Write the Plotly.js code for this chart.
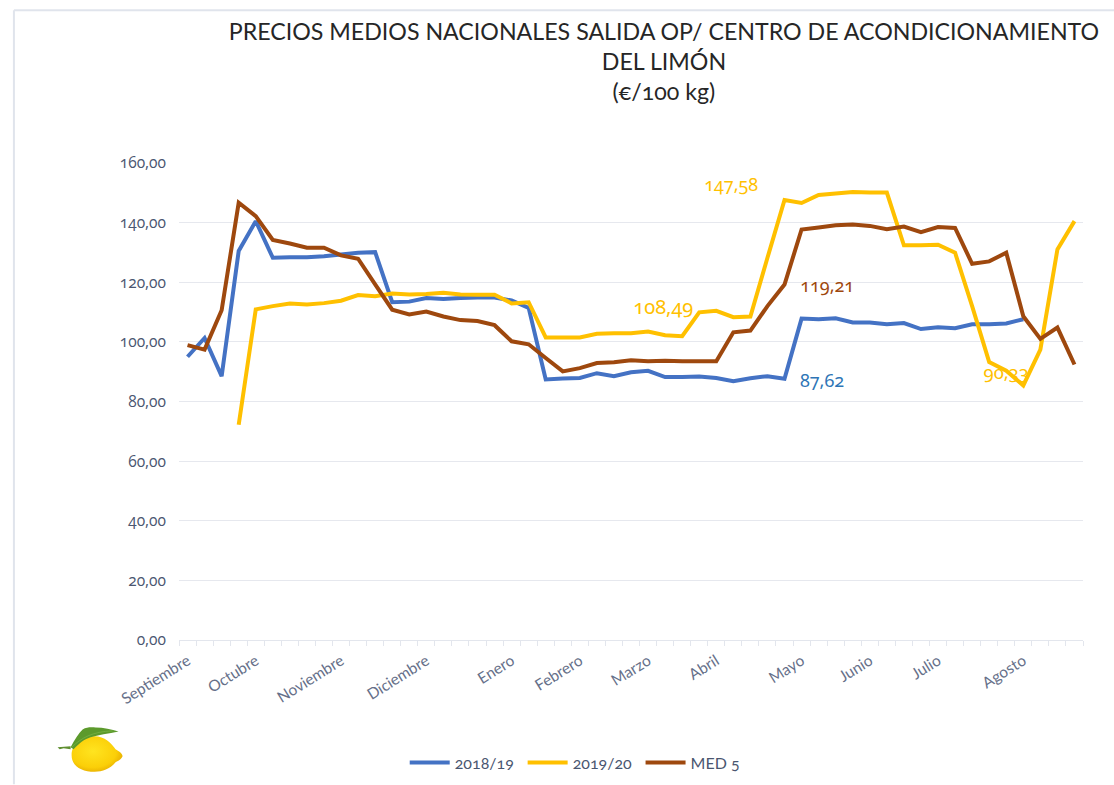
<!DOCTYPE html>
<html><head><meta charset="utf-8">
<script src="https://cdn.plot.ly/plotly-3.0.1.min.js"></script>
<style>
html,body{margin:0;padding:0;background:#fff}
#chart{width:1114px;height:785px}
#chart text{font-variant-numeric:oldstyle-nums !important;font-feature-settings:"onum" 1 !important}
</style></head><body><div id="chart"></div>
<script>
var weekIndex = [];
for (var w = 0; w < 53; w++) weekIndex.push(w);

var monthPositions = [0,4,9,14,19,23,27,31,36,40,44,49];
var monthLabels = ["Septiembre","Octubre","Noviembre","Diciembre","Enero","Febrero","Marzo","Abril","Mayo","Junio","Julio","Agosto"];

var yTicks = [0,20,40,60,80,100,120,140,160];
var yLabels = ["0,00","20,00","40,00","60,00","80,00","100,00","120,00","140,00","160,00"];

var s1819 = [95,101.3,88.5,130.5,140.5,128.2,128.4,128.4,128.7,129.3,129.9,130.1,113.3,113.5,114.7,114.4,114.7,114.9,114.9,113.9,111.4,87.4,87.7,87.9,89.5,88.5,89.8,90.3,88.2,88.2,88.4,87.9,86.8,87.8,88.5,87.62,107.8,107.6,107.9,106.5,106.5,105.9,106.3,104.3,104.9,104.6,105.9,105.9,106.2,107.6,null,null,null];
var s1920 = [null,null,null,72.2,110.9,112,112.9,112.5,113,113.8,115.7,115.3,116.2,115.9,116.1,116.5,115.9,115.8,115.8,112.9,113.3,101.5,101.5,101.5,102.7,102.9,102.9,103.5,102.2,101.9,109.9,110.4,108.3,108.49,128.2,147.58,146.6,149.3,149.8,150.3,150.1,150.1,132.4,132.4,132.6,129.9,112,93.2,90.33,85.4,97.4,131,140.5];
var med5 = [98.9,97.4,110.6,146.7,142.2,134.2,133,131.6,131.6,129,127.9,119.3,110.8,109.2,110.2,108.5,107.3,107,105.6,100.2,99.2,94.6,90.1,91.2,92.9,93.2,93.8,93.5,93.7,93.5,93.5,93.5,103.2,103.8,112,119.21,137.7,138.4,139.1,139.4,138.9,137.8,138.7,136.8,138.5,138.2,126.2,127,129.9,108.6,101,104.8,92.4];

var FONT = "Lato, 'Open Sans', sans-serif";
var NUMFONT = "'Open Sans', Lato, sans-serif";
var NOTEFONT = "'Noto Sans', Lato, sans-serif";
var BLUE = "#4472c4", GOLD = "#ffc000", BROWN = "#9e480e";

function line(name, y, color){
  return {type:"scatter",mode:"lines",name:name,x:weekIndex,y:y,
    line:{color:color,width:4,simplify:false},connectgaps:false};
}

var lemon = "data:image/svg+xml;utf8," + encodeURIComponent(
 '<svg xmlns="http://www.w3.org/2000/svg" viewBox="0 0 70 50">'+
 '<defs><radialGradient id="g" cx="42%" cy="42%" r="65%"><stop offset="0" stop-color="#ffe420"/><stop offset="0.7" stop-color="#fbcf08"/><stop offset="1" stop-color="#e3a800"/></radialGradient></defs>'+
 '<path d="M17 30C17 18 28 11 40 11C50 11 57 18 61 24C64 26 68 28 68 31C67 34 63 36 61 37C55 44 48 46.5 40 46.5C27 46.5 17 41 17 30Z" fill="url(#g)"/>'+
 '<path d="M3 22L16 21L16 24L9 23L5 24Z" fill="#5f8f30"/>'+
 '<path d="M16 22C20 14 24 8 28 4C33 1 38 2 41 2C49 2 57 4 64 6C59 7 54 8 49 9C44 10 40 11 36 12C29 14 24 19 19 24Z" fill="#5c9a2c"/>'+
 '<path d="M17 22C26 13 38 6 58 5.5" stroke="#7cb648" stroke-width="0.7" fill="none"/>'+
 '</svg>');

var labelTrace = {type:"scatter",mode:"text",x:[48],y:[89],text:["90,33"],
  textposition:"middle center",textfont:{family:NOTEFONT,size:18.5,color:GOLD},
  showlegend:false,hoverinfo:"skip"};

var data = [labelTrace, line("2018/19",s1819,BLUE), line("2019/20",s1920,GOLD), line("MED 5",med5,BROWN)];

function note(text,x,y,color,dx,dy,size){
  return {text:text,x:x,y:y,xref:"x",yref:"y",showarrow:false,xshift:dx,yshift:dy,
    font:{family:NOTEFONT,size:size,color:color}};
}

var layout = {
  width:1114,height:785,autosize:false,showlegend:true,
  paper_bgcolor:"#fff",plot_bgcolor:"#fff",
  margin:{l:178.5,r:30.5,t:163,b:144.5},
  font:{family:FONT},
  title:{text:"PRECIOS MEDIOS NACIONALES SALIDA OP/ CENTRO DE ACONDICIONAMIENTO<br>DEL LIMÓN<br>(€/100 kg)",
    font:{family:FONT,size:23.2,color:"#262626"},
    x:0.596,xref:"container",xanchor:"center",y:0.9495,yanchor:"top"},
  xaxis:{type:"linear",range:[-0.5,52.5],tickmode:"array",tickvals:monthPositions,ticktext:monthLabels,
    tickangle:-32,ticks:"",ticklabelstandoff:5,showgrid:false,zeroline:false,showline:true,linecolor:"#e3e6ed",linewidth:1,
    tickfont:{family:FONT,size:15.5,color:"#667089"},
    minor:{tick0:-0.5,dtick:1,ticks:"outside",ticklen:5,tickcolor:"#e3e6ed",tickwidth:1,showgrid:false}},
  yaxis:{range:[0,160],tickmode:"array",tickvals:yTicks,ticktext:yLabels,showgrid:true,gridcolor:"#e6e8ee",gridwidth:1,
    zeroline:false,showline:false,ticks:"",ticklen:0,ticklabelstandoff:12,tickfont:{family:NUMFONT,size:15.5,color:"#4a5670"}},
  legend:{orientation:"h",xref:"container",x:0.3633,xanchor:"left",yref:"container",y:0.0502,yanchor:"top",itemwidth:40,
    font:{family:FONT,size:16,color:"#4a5670"},bgcolor:"rgba(0,0,0,0)"},
  annotations:[
    note("147,58",35,147.58,GOLD,-54,16,18),
    note("108,49",33,108.49,GOLD,-87,10,20),
    note("119,21",35,119.21,BROWN,42,0,18),
    note("87,62",35,87.62,"#2e75b6",37,-1,18)
  ],
  shapes:[
    {type:"line",xref:"paper",yref:"paper",x0:-0.1826,x1:1.035,y0:1.3204,y1:1.3204,line:{color:"#e0e4ec",width:2}},
    {type:"line",xref:"paper",yref:"paper",x0:-0.1826,x1:-0.1826,y0:1.3204,y1:-0.3024,line:{color:"#e0e4ec",width:2}}
  ],
  images:[{source:lemon,xref:"paper",yref:"paper",x:-0.13757,y:-0.179,sizex:0.07735,sizey:0.1047,xanchor:"left",yanchor:"top",sizing:"stretch",layer:"above"}]
};
Plotly.newPlot("chart",data,layout,{displayModeBar:false,staticPlot:true});
</script></body></html>
